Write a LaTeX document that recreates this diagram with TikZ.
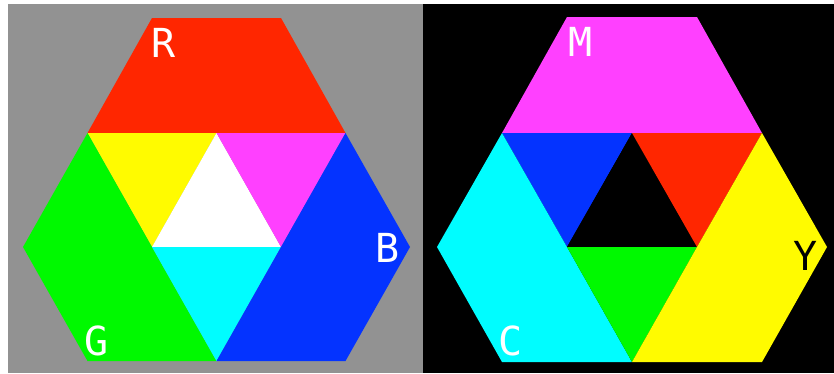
\documentclass[tikz,border=0pt]{standalone}
\usepackage{fontspec}
\setmonofont{DejaVu Sans Mono}
\definecolor{cRed}{HTML}{FF2600}
\definecolor{cMag}{HTML}{FF40FF}
\definecolor{cBlue}{HTML}{0433FF}
\definecolor{cYel}{HTML}{FFFB00}
\definecolor{cGrn}{HTML}{00F900}
\definecolor{cCyan}{HTML}{00FDFF}
\definecolor{cGray}{HTML}{929292}
\tikzset{
  lbl/.style={font=\ttfamily\fontsize{40}{40}\selectfont, inner sep=0pt, anchor=center},
}
\begin{document}
\begin{tikzpicture}[x=1pt,y=-1pt]
\useasboundingbox (0,0) rectangle (834,373);
\fill[white] (0,0) rectangle (834,373);
\fill[cGray] (8,4) rectangle (423,373);
\fill[black] (423,4) rectangle (834,373);
% left hexagon
\begin{scope}[shift={(216.5,0)}]
\def\a{64.5}
\fill[cRed] (-\a,18) -- (\a,18) -- (2*\a,133) -- (-2*\a,133) -- cycle;
\fill[cYel] (-2*\a,133) -- (0,133) -- (-\a,247) -- cycle;
\fill[white] (0,133) -- (\a,247) -- (-\a,247) -- cycle;
\fill[cMag] (0,133) -- (2*\a,133) -- (\a,247) -- cycle;
\fill[cGrn] (-2*\a,133) -- (-\a,247) -- (0,361) -- (-2*\a,361) -- (-3*\a,247) -- cycle;
\fill[cCyan] (-\a,247) -- (\a,247) -- (0,361) -- cycle;
\fill[cBlue] (2*\a,133) -- (3*\a,247) -- (2*\a,361) -- (0,361) -- (\a,247) -- cycle;
\end{scope}
% right hexagon
\begin{scope}[shift={(632,0)}]
\def\a{65}
\fill[cMag] (-\a,17) -- (\a,17) -- (2*\a,133) -- (-2*\a,133) -- cycle;
\fill[cBlue] (-2*\a,133) -- (0,133) -- (-\a,247) -- cycle;
\fill[black] (0,133) -- (\a,247) -- (-\a,247) -- cycle;
\fill[cRed] (0,133) -- (2*\a,133) -- (\a,247) -- cycle;
\fill[cCyan] (-2*\a,133) -- (-\a,247) -- (0,362) -- (-2*\a,362) -- (-3*\a,247) -- cycle;
\fill[cGrn] (-\a,247) -- (\a,247) -- (0,362) -- cycle;
\fill[cYel] (2*\a,133) -- (3*\a,247) -- (2*\a,362) -- (0,362) -- (\a,247) -- cycle;
\end{scope}
% labels
\node[lbl, text=white] (R) at (164,43) {R};
\node[lbl, text=white] (B) at (388,248) {B};
\node[lbl, text=white] (G) at (97,341) {G};
\node[lbl, text=white] (M) at (581,42) {M};
\node[lbl, text=black] (Y) at (806,256) {Y};
\node[lbl, text=white] (C) at (511,341) {C};
\end{tikzpicture}
\end{document}
